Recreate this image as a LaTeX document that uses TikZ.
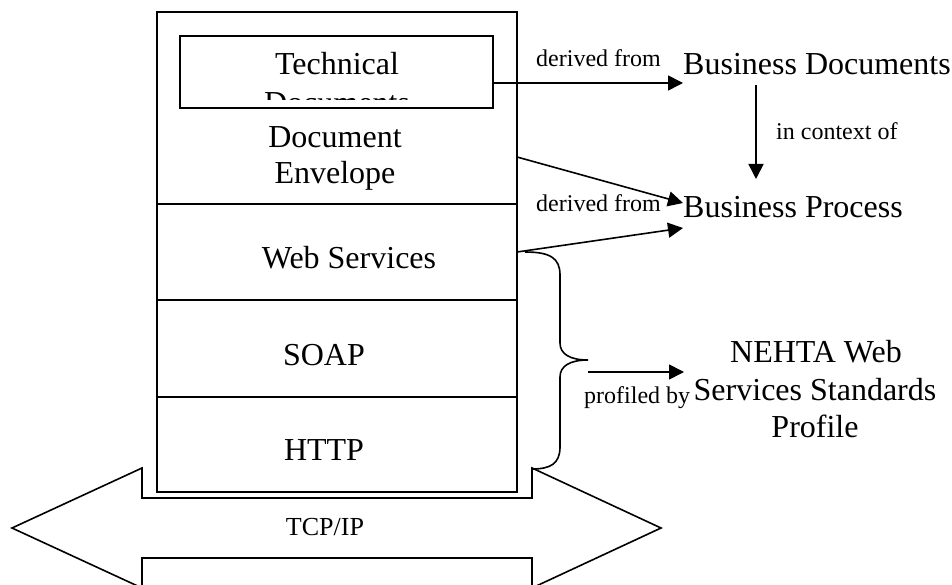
\documentclass[tikz,border=0pt]{standalone}
\usepackage{fontspec}
\setmainfont{Liberation Serif}
\usetikzlibrary{arrows.meta}
\tikzset{
  ln/.style={line width=1.6pt},
  big/.style={font=\fontsize{32}{37}\selectfont, inner sep=0pt, anchor=base},
  small/.style={font=\fontsize{24}{28}\selectfont, inner sep=0pt, anchor=base},
  conn/.style={ln, -{Triangle[length=15pt,width=15pt]}},
  boxc/.style={draw, ln, rectangle, inner sep=0pt},
}
\begin{document}
\begin{tikzpicture}[x=1pt,y=-1pt]
\useasboundingbox (0,0) rectangle (952,585);
\clip (0,0) rectangle (952,585);

% TCP/IP block arrow (double headed)
\draw[ln, line join=miter] (12,528) -- (142,468) -- (142,498) -- (532,498) -- (532,468)
  -- (661,528) -- (532,588) -- (532,558) -- (142,558) -- (142,588) -- cycle;
\node[small, font=\fontsize{26}{30}\selectfont] (tcp) at (325,535) {TCP/IP};

% protocol stack
\node[boxc, minimum width=360pt, minimum height=480pt] (stack) at (337,252) {};
\draw[ln] (157,204) -- (517,204);
\draw[ln] (157,300) -- (517,300);
\draw[ln] (157,397) -- (517,397);

% technical documents box with clipped text
\begin{scope}
  \clip (180,36) rectangle (493,100);
  \node[big] (ttech) at (337,75) {Technical};
  \node[big] (tdocs) at (337,114) {Documents};
\end{scope}
\node[boxc, minimum width=313pt, minimum height=72pt] (tech) at (336.5,72) {};

\node[big] (env1) at (335,148) {Document};
\node[big] (env2) at (335,184) {Envelope};
\node[big] (ws) at (349,268) {Web Services};
\node[big] (soap) at (324,365) {SOAP};
\node[big] (http) at (324,460) {HTTP};

% right side
\node[big, anchor=base west] (bd) at (683,75) {Business Documents};
\node[big, anchor=base west] (bp) at (683,218) {Business Process};
\node[small, anchor=base west] (ctx) at (776,140) {in context of};
\node[small, anchor=base west] (df1) at (536,67) {derived from};
\node[small, anchor=base west] (df2) at (536,212) {derived from};
\node[big] (neh1) at (816,362) {NEHTA Web};
\node[big] (neh2) at (815,400) {Services Standards};
\node[big] (neh3) at (815,437) {Profile};
\node[small, anchor=base west] (prof) at (584,403) {profiled by};

% connector end points
\coordinate (techR) at (493,83);
\coordinate (bdL) at (683,83);
\coordinate (bdB) at (756,85);
\coordinate (bpT) at (756,179);
\coordinate (envR) at (517,157);
\coordinate (bpL1) at (683,203);
\coordinate (wsR) at (517,252);
\coordinate (bpL2) at (683,228);
\coordinate (braceTip) at (588,360);
\coordinate (profS) at (588,372);
\coordinate (nehL) at (684,372);

\draw[conn] (techR) -- (bdL);
\draw[conn] (bdB) -- (bpT);
\draw[conn] (envR) -- (bpL1);
\draw[conn] (wsR) -- (bpL2);
\draw[conn] (profS) -- (nehL);

% brace
\draw[ln] (525,252) .. controls (550,252) and (560,258) .. (560,275) -- (560,343)
  .. controls (560,354) and (570,360) .. (braceTip)
  .. controls (570,360) and (560,366) .. (560,377) -- (560,447)
  .. controls (560,464) and (550,469) .. (532,469);
\end{tikzpicture}
\end{document}
